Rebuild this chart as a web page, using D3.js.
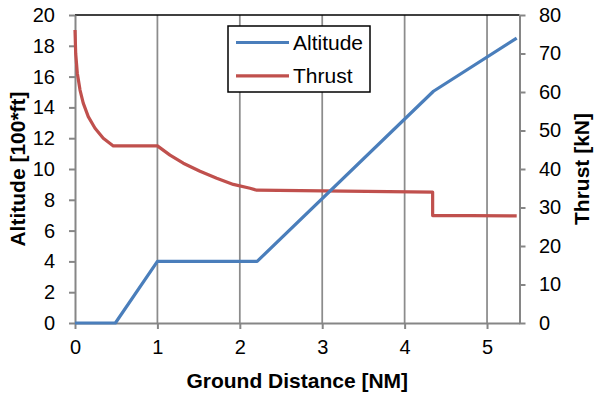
<!DOCTYPE html>
<html>
<head>
<meta charset="utf-8">
<script src="https://cdn.jsdelivr.net/npm/d3@7"></script>
<style>
  body { margin: 0; background: #fff; }
  svg { font-family: "Liberation Sans", Arial, sans-serif; }
</style>
</head>
<body>
<div id="chart"></div>
<script>
// altitude profile (100 ft) vs ground distance (NM)
const altDist  = [0, 0.49, 1.0, 2.21, 4.35, 5.36];
const altitude = [0, 0, 4, 4, 15.05, 18.5];

// thrust (kN) vs ground distance (NM)
const thrustDist = [0, 0.0085, 0.028, 0.061, 0.10, 0.161, 0.243, 0.343, 0.465, 1.0,
                    1.153, 1.314, 1.517, 1.72, 1.921, 2.124, 2.205, 3.0, 4.34, 4.34, 4.8, 5.36];
const thrust     = [76.1, 70.0, 64.9, 60.5, 57.1, 53.6, 50.6, 48.0, 46.0, 46.0,
                    43.6, 41.5, 39.4, 37.6, 36.0, 35.0, 34.5, 34.3, 34.0, 27.9, 27.9, 27.8];

const xTicks = [0, 1, 2, 3, 4, 5];
const altTicks = [0, 2, 4, 6, 8, 10, 12, 14, 16, 18, 20];
const thrustTicks = [0, 10, 20, 30, 40, 50, 60, 70, 80];

const W = 594, H = 397;
const pLeft = 75, pRight = 519.5, pTop = 15, pBottom = 323;
const axisGray = "#868686";

const svg = d3.select("#chart").append("svg")
    .attr("width", W)
    .attr("height", H);

const x = d3.scaleLinear().domain([0, 5.394]).range([pLeft, pRight]);
const yL = d3.scaleLinear().domain([0, 20]).range([pBottom, pTop]);
const yR = d3.scaleLinear().domain([0, 80]).range([pBottom, pTop]);

// vertical gridlines
svg.append("g")
    .selectAll("line")
    .data(xTicks.filter(d => d > 0))
    .enter().append("line")
    .attr("x1", d => x(d)).attr("x2", d => x(d))
    .attr("y1", pTop).attr("y2", pBottom)
    .attr("stroke", "#8c8c8c")
    .attr("stroke-width", 1.75);

// top frame line
svg.append("line")
    .attr("x1", pLeft).attr("x2", pRight)
    .attr("y1", pTop).attr("y2", pTop)
    .attr("stroke", "#000")
    .attr("stroke-width", 1.5);

function styleAxis(g) {
    g.selectAll("path").attr("stroke", axisGray).attr("stroke-width", 2);
    g.selectAll("line").attr("stroke", axisGray).attr("stroke-width", 2);
    g.selectAll("text").attr("font-size", 20).attr("fill", "#000")
        .attr("font-family", "Liberation Sans, Arial, sans-serif");
}

svg.append("g")
    .attr("transform", `translate(0,${pBottom})`)
    .call(d3.axisBottom(x).tickValues(xTicks).tickFormat(d3.format("d"))
        .tickSizeInner(6).tickSizeOuter(0).tickPadding(11))
    .call(styleAxis);

svg.append("g")
    .attr("transform", `translate(${pLeft},0)`)
    .call(d3.axisLeft(yL).tickValues(altTicks).tickFormat(d3.format("d"))
        .tickSizeInner(6).tickSizeOuter(0).tickPadding(14))
    .call(styleAxis);

svg.append("g")
    .attr("transform", `translate(${pRight},0)`)
    .call(d3.axisRight(yR).tickValues(thrustTicks).tickFormat(d3.format("d"))
        .tickSizeInner(6).tickSizeOuter(0).tickPadding(13.5))
    .call(styleAxis);

// series
const altLine = d3.line()
    .x((d, i) => x(altDist[i]))
    .y(d => yL(d));
const thrustLine = d3.line()
    .x((d, i) => x(thrustDist[i]))
    .y(d => yR(d));

svg.append("path")
    .datum(thrust)
    .attr("d", thrustLine)
    .attr("fill", "none")
    .attr("stroke", "#c0504d")
    .attr("stroke-width", 3.2)
    .attr("stroke-linejoin", "round");

svg.append("path")
    .datum(altitude)
    .attr("d", altLine)
    .attr("fill", "none")
    .attr("stroke", "#4a7ebb")
    .attr("stroke-width", 3.2)
    .attr("stroke-linejoin", "round");

// axis titles
svg.append("text")
    .attr("x", (pLeft + pRight) / 2)
    .attr("y", 388)
    .attr("text-anchor", "middle")
    .attr("font-size", 21)
    .attr("font-weight", "bold")
    .text("Ground Distance [NM]");

svg.append("text")
    .attr("transform", `translate(25,${(pTop + pBottom) / 2}) rotate(-90)`)
    .attr("text-anchor", "middle")
    .attr("font-size", 21)
    .attr("font-weight", "bold")
    .text("Altitude [100*ft]");

svg.append("text")
    .attr("transform", `translate(589,${(pTop + pBottom) / 2}) rotate(-90)`)
    .attr("text-anchor", "middle")
    .attr("font-size", 21)
    .attr("font-weight", "bold")
    .text("Thrust [kN]");

// legend
const legend = svg.append("g").attr("transform", "translate(228,26)");
legend.append("rect")
    .attr("width", 142).attr("height", 66)
    .attr("fill", "#fff")
    .attr("stroke", "#000")
    .attr("stroke-width", 1.5);

const legendItems = [
    { name: "Altitude", color: "#4a7ebb" },
    { name: "Thrust", color: "#c0504d" }
];
const item = legend.selectAll(".item")
    .data(legendItems)
    .enter().append("g")
    .attr("transform", (d, i) => `translate(0,${16.5 + i * 33.3})`);
item.append("line")
    .attr("x1", 8).attr("x2", 61)
    .attr("stroke", d => d.color)
    .attr("stroke-width", 3.2);
item.append("text")
    .attr("x", 65)
    .attr("y", 7.5)
    .attr("font-size", 21)
    .text(d => d.name);
</script>
</body>
</html>
